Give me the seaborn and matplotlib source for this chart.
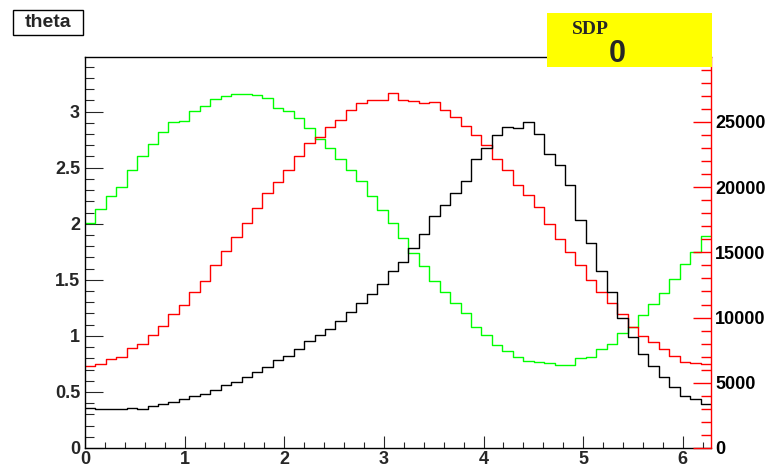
import numpy as np
import pandas as pd
import matplotlib
matplotlib.use("Agg")
import matplotlib.pyplot as plt
from matplotlib.patches import Rectangle
from matplotlib.ticker import MultipleLocator, FuncFormatter
import seaborn as sns

# ---- data (60 bins over 0..2pi) ----
n_bins = 60
x_min, x_max = 0.0, 2 * np.pi

black_vals = [0.357, 0.348, 0.348, 0.348, 0.357, 0.351, 0.372, 0.39, 0.41, 0.437,
              0.464, 0.484, 0.52, 0.559, 0.592, 0.633, 0.678, 0.725, 0.782, 0.821,
              0.883, 0.952, 1.005, 1.064, 1.136, 1.21, 1.29, 1.376, 1.463, 1.576,
              1.656, 1.781, 1.906, 2.067, 2.168, 2.275, 2.385, 2.578, 2.679, 2.792,
              2.864, 2.857, 2.905, 2.798, 2.623, 2.522, 2.346, 2.037, 1.831, 1.576,
              1.389, 1.16, 0.99, 0.839, 0.731, 0.636, 0.547, 0.467, 0.434, 0.39]

red_vals = [0.729, 0.749, 0.791, 0.815, 0.889, 0.925, 1.008, 1.088, 1.192, 1.276,
            1.394, 1.487, 1.635, 1.757, 1.88, 2.004, 2.14, 2.27, 2.37, 2.477,
            2.605, 2.718, 2.777, 2.86, 2.929, 3.012, 3.075, 3.104, 3.104, 3.17,
            3.104, 3.098, 3.075, 3.09, 3.018, 2.95, 2.875, 2.79, 2.706, 2.578,
            2.477, 2.343, 2.254, 2.15, 1.998, 1.864, 1.746, 1.632, 1.499, 1.394,
            1.29, 1.192, 1.079, 0.999, 0.943, 0.88, 0.821, 0.767, 0.755, 0.746]

green_vals = [2.01, 2.13, 2.245, 2.33, 2.48, 2.60, 2.71, 2.816, 2.91, 2.917,
              3.006, 3.048, 3.113, 3.137, 3.16, 3.16, 3.149, 3.12, 3.036, 3.009,
              2.94, 2.857, 2.757, 2.68, 2.578, 2.48, 2.379, 2.25, 2.12, 2.007,
              1.876, 1.742, 1.624, 1.493, 1.392, 1.296, 1.207, 1.079, 1.008, 0.919,
              0.865, 0.815, 0.776, 0.764, 0.755, 0.740, 0.740, 0.80, 0.815, 0.886,
              0.928, 1.023, 1.082, 1.184, 1.285, 1.38, 1.505, 1.639, 1.748, 1.894]

series_names = ["black", "red", "green"]
series_colors = ["#000000", "#ff0000", "#00ff00"]

title_text = "theta"
stats_title = "SDP"
stats_value = "0"

left_ylim = (0, 3.49)
right_ylim = (0, 30000)

# ---- build long table ----
edges = np.linspace(x_min, x_max, n_bins + 1)
centers = 0.5 * (edges[:-1] + edges[1:])
frames = []
for name, vals in zip(series_names, [black_vals, red_vals, green_vals]):
    frames.append(pd.DataFrame({"x": centers, "w": vals, "series": name}))
df = pd.concat(frames, ignore_index=True)

# ---- figure ----
sns.set_style("white")
plt.rcParams["font.family"] = ["Liberation Sans", "DejaVu Sans"]
plt.rcParams["font.weight"] = "bold"

W, H = 769, 466
fig = plt.figure(figsize=(W / 100, H / 100), dpi=100)
L, R, T, B = 85, 711, 56.7, 448
ax = fig.add_axes([L / W, 1 - B / H, (R - L) / W, (B - T) / H])

sns.histplot(data=df, x="x", weights="w", hue="series", bins=n_bins,
             binrange=(x_min, x_max),
             element="step", fill=False, palette=dict(zip(series_names, series_colors)),
             hue_order=series_names, legend=False, linewidth=1.0, ax=ax)

ax.set_xlim(x_min, x_max)
ax.set_ylim(*left_ylim)
ax.set_xlabel("")
ax.set_ylabel("")

ax.xaxis.set_major_locator(MultipleLocator(1))
ax.xaxis.set_minor_locator(MultipleLocator(0.2))
ax.yaxis.set_major_locator(MultipleLocator(0.5))
ax.yaxis.set_minor_locator(MultipleLocator(0.1))
ax.yaxis.set_major_formatter(FuncFormatter(lambda v, p: f"{v:g}"))
ax.xaxis.set_major_formatter(FuncFormatter(lambda v, p: f"{v:g}"))

ax.tick_params(axis="x", which="major", direction="in", length=8.6, width=0.8,
               labelsize=13, pad=2.5, bottom=True, top=False)
ax.tick_params(axis="x", which="minor", direction="in", length=4.6, width=0.8,
               bottom=True, top=False)
ax.tick_params(axis="y", which="major", direction="in", length=13, width=0.8,
               labelsize=13, pad=3.6, left=True, right=False)
ax.tick_params(axis="y", which="minor", direction="in", length=6.5, width=0.8,
               left=True, right=False)
for lab in ax.get_xticklabels() + ax.get_yticklabels():
    lab.set_fontweight("bold")

for s in ["top", "left", "bottom"]:
    ax.spines[s].set_color("black")
    ax.spines[s].set_linewidth(1.0)
ax.spines["right"].set_visible(False)

# ---- right axis (red) ----
ax2 = ax.twinx()
ax2.set_ylim(*right_ylim)
ax2.yaxis.set_major_locator(MultipleLocator(5000))
ax2.yaxis.set_minor_locator(MultipleLocator(1000))
ax2.yaxis.set_major_formatter(FuncFormatter(lambda v, p: f"{v:.0f}" if v < 29000 else ""))
ax2.tick_params(axis="y", which="major", direction="in", length=13, width=1.0,
                color="#ff0000", labelcolor="black", labelsize=13, pad=2.9)
ax2.tick_params(axis="y", which="minor", direction="in", length=7, width=1.0,
                color="#ff0000")
for s in ["top", "left", "bottom"]:
    ax2.spines[s].set_visible(False)
ax2.spines["right"].set_color("#ff0000")
ax2.spines["right"].set_linewidth(1.0)
for lab in ax2.get_yticklabels():
    lab.set_fontweight("bold")
ax2.grid(False)
ax.grid(False)

# ---- title box ----
tbox = Rectangle((13 / W, 1 - 35 / H), 70 / W, 25 / H, transform=fig.transFigure,
                 facecolor="white", edgecolor="black", linewidth=1.0, zorder=10)
fig.add_artist(tbox)
fig.text(48 / W, 1 - 22.5 / H, title_text, ha="center", va="center",
         fontsize=14, fontweight="bold", zorder=11)

# ---- stats box ----
rect = Rectangle((546.7 / W, 1 - 66.7 / H), 165 / W, 54 / H, transform=fig.transFigure,
                 facecolor="#ffff00", edgecolor="none", zorder=10)
fig.add_artist(rect)
fig.text(590 / W, 1 - 29 / H, stats_title, ha="center", va="center",
         fontsize=14, fontweight="bold", family=["Liberation Serif", "DejaVu Serif"], zorder=11)
fig.text(617 / W, 1 - 53.5 / H, stats_value, ha="center", va="center",
         fontsize=22, fontweight="bold", zorder=11)

fig.savefig("out.png", dpi=100)
